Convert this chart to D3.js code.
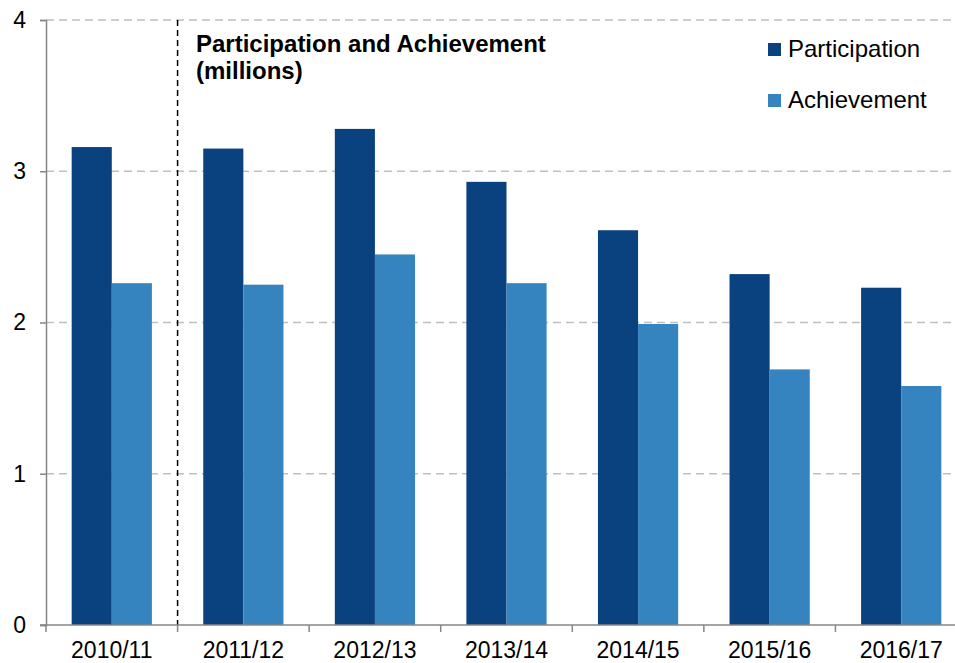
<!DOCTYPE html>
<html>
<head>
<meta charset="utf-8">
<script src="https://cdn.jsdelivr.net/npm/d3@7"></script>
<style>
  body { margin: 0; background: #fff; }
  svg { font-family: Arial, "Liberation Sans", sans-serif; }
</style>
</head>
<body>
<div id="chart"></div>
<script>
const years = ["2010/11", "2011/12", "2012/13", "2013/14", "2014/15", "2015/16", "2016/17"];
const participation = [3.16, 3.15, 3.28, 2.93, 2.61, 2.32, 2.23];
const achievement = [2.26, 2.25, 2.45, 2.26, 1.99, 1.69, 1.58];
const series = ["Participation", "Achievement"];
const yTicks = [0, 1, 2, 3, 4];

const w = 955;
const h = 663;
const plotLeft = 46;
const plotRight = 967;
const plotTop = 20;
const plotBottom = 625;

const colors = { Participation: "#0a427f", Achievement: "#3584c0" };

const svg = d3.select("#chart").append("svg").attr("width", w).attr("height", h);

const x = d3.scaleBand().domain(years).range([plotLeft, plotRight]).paddingInner(0).paddingOuter(0);
const inner = d3.scaleBand().domain(series).range([0, x.bandwidth()]).paddingOuter(0.64).paddingInner(0);
const y = d3.scaleLinear().domain([0, 4]).range([plotBottom, plotTop]);

// gridlines
svg.append("g")
  .selectAll("line")
  .data(yTicks.filter((d) => d > 0))
  .enter()
  .append("line")
  .attr("x1", plotLeft)
  .attr("x2", w)
  .attr("y1", (d) => y(d))
  .attr("y2", (d) => y(d))
  .attr("stroke", "#bfbfbf")
  .attr("stroke-width", 1.5)
  .attr("stroke-dasharray", "8,5");

// bars
const rows = years.map((yr, i) => ({ year: yr, Participation: participation[i], Achievement: achievement[i] }));
const groups = svg.append("g")
  .selectAll("g")
  .data(rows)
  .enter()
  .append("g")
  .attr("transform", (d) => "translate(" + x(d.year) + ",0)");
groups.selectAll("rect")
  .data((d) => series.map((s) => ({ key: s, value: d[s] })))
  .enter()
  .append("rect")
  .attr("x", (d) => inner(d.key))
  .attr("width", inner.bandwidth())
  .attr("y", (d) => y(d.value))
  .attr("height", (d) => plotBottom - y(d.value))
  .attr("fill", (d) => colors[d.key]);

// divider between 2010/11 and the rest
svg.append("line")
  .attr("x1", x("2011/12"))
  .attr("x2", x("2011/12"))
  .attr("y1", plotTop)
  .attr("y2", plotBottom)
  .attr("stroke", "#000")
  .attr("stroke-width", 1.5)
  .attr("stroke-dasharray", "6,4");

// axes
const yAxis = d3.axisLeft(y).tickValues(yTicks).tickSize(6).tickPadding(14).tickFormat(d3.format("d"));
const gy = svg.append("g").attr("transform", "translate(" + plotLeft + ",0)").call(yAxis);
gy.select(".domain").attr("stroke", "#868686").attr("stroke-width", 1.5);
gy.selectAll(".tick line").attr("stroke", "#868686").attr("stroke-width", 1.5);
gy.selectAll(".tick text").attr("font-size", 23).attr("fill", "#000");

const xAxis = d3.axisBottom(x).tickSize(0).tickPadding(17);
const gx = svg.append("g").attr("transform", "translate(0," + plotBottom + ")").call(xAxis);
gx.select(".domain").attr("stroke", "#868686").attr("stroke-width", 1.5).attr("d", "M" + (plotLeft - 6) + ",0H" + plotRight);
gx.selectAll(".tick text").attr("font-size", 23).attr("fill", "#000");
gx.selectAll(".tick line").remove();
// category boundary ticks
svg.append("g")
  .selectAll("line")
  .data(years.concat(["end"]))
  .enter()
  .append("line")
  .attr("x1", (d, i) => plotLeft + i * x.bandwidth())
  .attr("x2", (d, i) => plotLeft + i * x.bandwidth())
  .attr("y1", plotBottom)
  .attr("y2", plotBottom + 7)
  .attr("stroke", "#868686")
  .attr("stroke-width", 1.5);

// title
const title = svg.append("text").attr("x", 196).attr("y", 52).attr("font-size", 24).attr("font-weight", "bold");
title.append("tspan").attr("x", 196).text("Participation and Achievement");
title.append("tspan").attr("x", 196).attr("dy", 27).text("(millions)");

// legend
const legend = svg.append("g")
  .selectAll("g")
  .data(series)
  .enter()
  .append("g")
  .attr("transform", (d, i) => "translate(768," + (43 + i * 51) + ")");
legend.append("rect").attr("x", 0).attr("y", 0).attr("width", 13).attr("height", 13).attr("fill", (d) => colors[d]);
legend.append("text").attr("x", 20).attr("y", 14).attr("font-size", 24).text((d) => d);
</script>
</body>
</html>
